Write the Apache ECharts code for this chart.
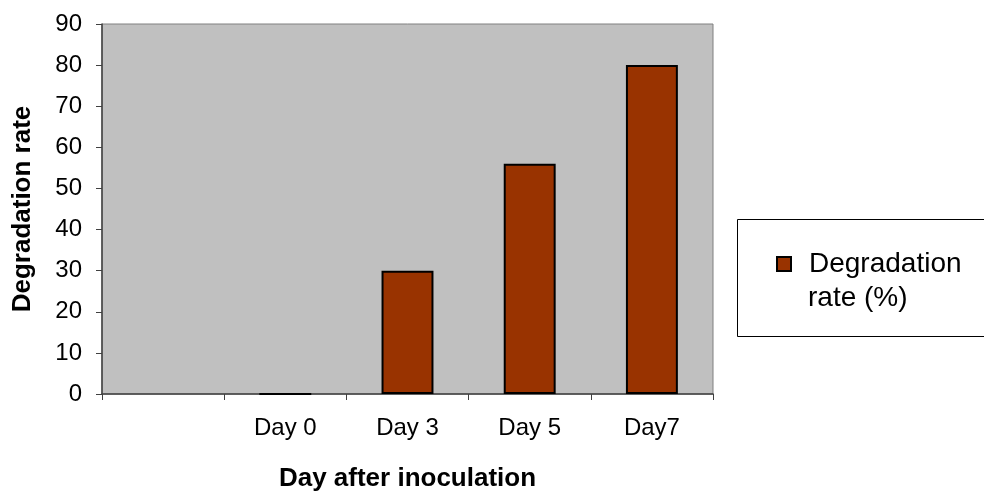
<!DOCTYPE html>
<html>
<head>
<meta charset="utf-8">
<script src="https://cdn.jsdelivr.net/npm/echarts@6/dist/echarts.min.js"></script>
<style>
html,body{margin:0;padding:0;background:#fff;}
#c{width:984px;height:492px;}
</style>
</head>
<body>
<div id="c"></div>
<script>
var categories = ['', 'Day 0', 'Day 3', 'Day 5', 'Day7'];
var degradationRate = [null, 0, 30, 56, 80];
var seriesName = 'Degradation rate (%)';
var yTicks = {min: 0, max: 90, interval: 10};

var FONT = '"Liberation Sans", Arial, sans-serif';
var chart = echarts.init(document.getElementById('c'));
chart.setOption({
  animation: false,
  backgroundColor: '#ffffff',
  grid: {
    left: 102, right: 271, top: 24, bottom: 98,
    outerBoundsMode: 'none',
    containLabel: false,
    show: true, backgroundColor: '#c0c0c0', borderColor: '#808080', borderWidth: 1
  },
  graphic: [
    {type: 'rect', z: 1, shape: {x: 737.5, y: 219.5, width: 260, height: 117},
     style: {fill: '#ffffff', stroke: '#000000', lineWidth: 1}},
    {type: 'text', z: 2, left: 808, top: 284,
     style: {text: 'rate (%)', font: '28px ' + FONT, fill: '#000'}}
  ],
  legend: {
    show: true,
    left: 776, top: 250,
    padding: 0,
    itemWidth: 14, itemHeight: 14,
    icon: 'rect',
    data: [seriesName],
    formatter: function () { return 'Degradation'; },
    textStyle: {fontFamily: FONT, fontSize: 28, color: '#000', padding: [0, 0, 0, 13]}
  },
  xAxis: {
    type: 'category',
    data: categories,
    name: 'Day after inoculation',
    nameLocation: 'middle',
    nameGap: 72,
    nameTextStyle: {fontFamily: FONT, fontSize: 26, fontWeight: 'bold', color: '#000'},
    axisLine: {show: true, lineStyle: {color: '#404040', width: 1.5}},
    axisTick: {show: true, length: 6, lineStyle: {color: '#404040'}},
    axisLabel: {fontFamily: FONT, fontSize: 24, color: '#000', margin: 22},
    splitLine: {show: false}
  },
  yAxis: {
    type: 'value',
    min: yTicks.min, max: yTicks.max, interval: yTicks.interval,
    name: 'Degradation rate',
    nameLocation: 'middle',
    nameGap: 66,
    nameTextStyle: {fontFamily: FONT, fontSize: 26, fontWeight: 'bold', color: '#000'},
    axisLine: {show: true, lineStyle: {color: '#404040', width: 1.5}},
    axisTick: {show: true, length: 6, lineStyle: {color: '#404040'}},
    axisLabel: {fontFamily: FONT, fontSize: 24, color: '#000', margin: 20},
    splitLine: {show: false}
  },
  series: [{
    name: seriesName,
    type: 'bar',
    data: degradationRate,
    barWidth: '42.5%',
    itemStyle: {color: '#993300', borderColor: '#000000', borderWidth: 2}
  }]
});
</script>
</body>
</html>
